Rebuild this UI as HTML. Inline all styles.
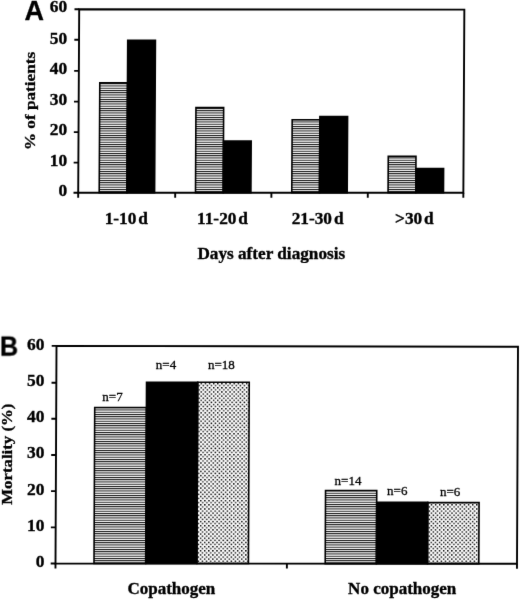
<!DOCTYPE html>
<html><head><meta charset="utf-8">
<style>
html,body{margin:0;padding:0;background:#fff;width:520px;height:600px;overflow:hidden}
svg{display:block;will-change:transform}
.t{font-family:"Liberation Serif",serif;font-weight:bold;fill:#000;stroke:#000;stroke-width:0.35px}
.n{font-family:"Liberation Serif",serif;font-weight:normal;fill:#000;stroke:#000;stroke-width:0.3px}
.L{font-family:"Liberation Sans",sans-serif;font-weight:bold;fill:#000;stroke:#000;stroke-width:0.3px}
</style></head>
<body>
<svg width="520" height="600" viewBox="0 0 520 600" xmlns="http://www.w3.org/2000/svg">
<defs>
<filter id="soft" filterUnits="userSpaceOnUse" x="0" y="0" width="520" height="600"><feConvolveMatrix order="3" kernelMatrix="0.0052 0.0619 0.0052 0.0619 0.7316 0.0619 0.0052 0.0619 0.0052" divisor="1" edgeMode="none"/></filter>
<pattern id="hA" patternUnits="userSpaceOnUse" width="8" height="2.25">
<rect x="0" y="0" width="8" height="0.95" fill="#000"/>
</pattern>
<pattern id="dot" patternUnits="userSpaceOnUse" width="4.12" height="4.18">
<rect x="0.4" y="0.4" width="1.45" height="1.45" fill="#000"/>
<rect x="2.46" y="2.49" width="1.45" height="1.45" fill="#000"/>
</pattern>
</defs>
<g filter="url(#soft)">

<!-- ================= Chart A ================= -->
<text class="L" x="24.6" y="19.8" font-size="27">A</text>
<g transform="translate(0,101) skewX(-0.31) translate(0,-101)">
<g fill="none" stroke="#000" stroke-width="1.9">
<path d="M78.7 9.2 L463.85 9.6 L463.85 192.8 L78.7 192.8 Z"/>
<path d="M74 9.2H78.7 M74 39.8H78.7 M74 70.85H78.7 M74 101.6H78.7 M74 132.1H78.7 M74 162.6H78.7 M74 192.8H78.7"/>
<path d="M78.7 192.8V197.8 M175.7 192.8V197.8 M271.9 192.8V197.8 M368.3 192.8V197.8 M463.85 192.8V197.8"/>
</g>
<g stroke="#000" stroke-width="1.6">
<rect x="99.7" y="82.9" width="27.7" height="109.9" fill="url(#hA)"/>
<rect x="127.4" y="40.18" width="27.7" height="152.62" fill="#000"/>
<rect x="195.99" y="107.47" width="27.7" height="85.33" fill="url(#hA)"/>
<rect x="223.69" y="141.11" width="27.7" height="51.69" fill="#000"/>
<rect x="292.28" y="119.7" width="27.7" height="73.1" fill="url(#hA)"/>
<rect x="319.98" y="116.64" width="27.7" height="76.16" fill="#000"/>
<rect x="388.57" y="156.4" width="27.7" height="36.4" fill="url(#hA)"/>
<rect x="416.27" y="168.63" width="27.7" height="24.17" fill="#000"/>
</g>
</g>
<g class="t" font-size="17.4" text-anchor="end">
<text x="67.2" y="12.2">60</text>
<text x="67.2" y="43.5">50</text>
<text x="67.2" y="74.1">40</text>
<text x="67.2" y="104.7">30</text>
<text x="67.2" y="135.2">20</text>
<text x="67.2" y="165.8">10</text>
<text x="67.2" y="196.4">0</text>
</g>
<g class="t" font-size="17.3" text-anchor="middle">
<text x="126.3" y="224.1">1-10<tspan dx="1.9">d</tspan></text>
<text x="222.5" y="224.1">11-20<tspan dx="1.9">d</tspan></text>
<text x="317.6" y="224.1">21-30<tspan dx="1.9">d</tspan></text>
<text x="414.4" y="224.1">&gt;30<tspan dx="1.9">d</tspan></text>
</g>
<text class="t" x="271.3" y="258.6" font-size="17.2" text-anchor="middle">Days after diagnosis</text>
<text class="t" font-size="17" text-anchor="middle" transform="translate(34.7,101) rotate(-90) scale(1.01,0.89)">% of patients</text>

<!-- ================= Chart B ================= -->
<text class="L" font-size="26" transform="translate(-0.1,355.6) scale(0.97,1.04)">B</text>
<g transform="translate(0,455) skewX(-0.264) translate(0,-455)">
<g fill="none" stroke="#000" stroke-width="1.9">
<path d="M56 345.9 L517.5 346.8 L517.5 563.8 L56 563.5 Z"/>
<path d="M51.2 345.9H56 M51.2 382.7H56 M51.2 418.7H56 M51.2 455H56 M51.2 491.1H56 M51.2 527.35H56 M51.2 563.5H56"/>
<path d="M56 563.5V568.6 M287.4 563.6V568.6 M517.5 563.8V568.8"/>
</g>
<g stroke="#000" stroke-width="1.6">
<rect x="94.5" y="407.5" width="51.7" height="156" fill="url(#hA)"/>
<rect x="146.2" y="382.3" width="51.2" height="181.2" fill="#000"/>
<rect x="197.4" y="382.2" width="51.5" height="181.3" fill="url(#dot)"/>
<rect x="325.7" y="490.5" width="51.2" height="73.1" fill="url(#hA)"/>
<rect x="376.9" y="502.4" width="51.1" height="61.2" fill="#000"/>
<rect x="428" y="502.6" width="51.3" height="61" fill="url(#dot)"/>
</g>
</g>
<g class="t" font-size="17.4" text-anchor="end">
<text x="44.4" y="349.5">60</text>
<text x="44.4" y="385.8">50</text>
<text x="44.4" y="422.0">40</text>
<text x="44.4" y="458.3">30</text>
<text x="44.4" y="494.6">20</text>
<text x="44.4" y="530.8">10</text>
<text x="44.4" y="567.1">0</text>
</g>
<g class="n" font-size="13">
<text transform="translate(102.3,401.0)">n=7</text>
<text transform="translate(155.8,369.2)">n=4</text>
<text transform="translate(208.0,369.4)">n=18</text>
<text transform="translate(334.6,484.9)">n=14</text>
<text transform="translate(387.1,495.3)">n=6</text>
<text transform="translate(440.0,495.5)">n=6</text>
</g>
<g class="t" font-size="17" text-anchor="middle">
<text x="171.4" y="593.8">Copathogen</text>
<text x="402.2" y="593.8">No copathogen</text>
</g>
<text class="t" font-size="16.8" text-anchor="middle" transform="translate(12.1,454.2) rotate(-90) scale(1,0.89)">Mortality (%)</text>
</g>
</svg>
</body></html>
